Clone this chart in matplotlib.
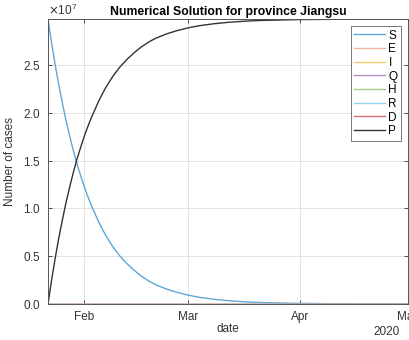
import numpy as np
import matplotlib
matplotlib.use("Agg")
import matplotlib.pyplot as plt
import matplotlib.dates as mdates
from matplotlib.ticker import ScalarFormatter

plt.rcParams['font.family'] = ['Liberation Sans', 'DejaVu Sans']

start_date = np.datetime64('2020-01-22')
days = [0, 1, 2, 3, 4, 5, 6, 7, 8, 9, 10, 11, 12, 13, 14, 15, 16, 17, 18, 19, 20,
        22, 24, 26, 28, 30, 33, 36, 39, 42, 46, 50, 55, 60, 70, 80, 90, 100]
# values in units of 1e7
S = [2.98, 2.73, 2.50, 2.29, 2.10, 1.92, 1.76, 1.61, 1.47, 1.35, 1.235, 1.13, 1.035,
     0.95, 0.865, 0.79, 0.72, 0.66, 0.60, 0.55, 0.50, 0.42, 0.35, 0.29, 0.24, 0.20,
     0.155, 0.12, 0.092, 0.07, 0.05, 0.035, 0.022, 0.014, 0.006, 0.003, 0.001, 0.0005]
P = [0.0, 0.25, 0.48, 0.69, 0.88, 1.06, 1.22, 1.37, 1.51, 1.63, 1.745, 1.85, 1.945,
     2.03, 2.115, 2.19, 2.26, 2.32, 2.38, 2.43, 2.48, 2.56, 2.63, 2.69, 2.74, 2.78,
     2.825, 2.86, 2.888, 2.91, 2.93, 2.945, 2.958, 2.966, 2.974, 2.977, 2.979, 2.98]
E = [0.0] * len(days)
I = [0.0] * len(days)
Q = [0.0] * len(days)
H = [0.0] * len(days)
R = [0.0] * len(days)
D = [0.0] * len(days)

names = ['S', 'E', 'I', 'Q', 'H', 'R', 'D', 'P']
series = [S, E, I, Q, H, R, D, P]
colors = ['#5EA7DA', '#F0B59C', '#F0CD70', '#B98AC9', '#A8CE86', '#90D2EE', '#D8707F', '#333333']

dates = start_date + np.array(days).astype('timedelta64[D]')
dates = dates.astype('datetime64[s]').astype(object)

fs = 8.5
fig = plt.figure(figsize=(4.09, 3.40), dpi=100)
ax = fig.add_axes([48/409, 1-304/340, 360/409, 285/340])

for name, vals, c in zip(names, series, colors):
    ax.plot(dates, np.array(vals) * 1e7, color=c, lw=1.0, label=name)

ax.set_xlim(np.datetime64('2020-01-22').astype(object), np.datetime64('2020-05-01').astype(object))
ax.set_ylim(0, 2.98e7)
ax.set_yticks([0, 0.5e7, 1e7, 1.5e7, 2e7, 2.5e7])
fmt = ScalarFormatter(useMathText=True)
fmt.set_powerlimits((0, 0))
ax.yaxis.set_major_formatter(fmt)
ax.yaxis.get_offset_text().set_fontsize(fs)
ax.yaxis.get_offset_text().set_color('#333333')

ax.xaxis.set_major_locator(mdates.MonthLocator())
ax.xaxis.set_major_formatter(mdates.DateFormatter('%b'))

ax.grid(True, color='#E3E3E3', lw=0.7)
ax.set_axisbelow(True)
ax.tick_params(direction='in', labelsize=fs, colors='#333333', top=True, right=True,
               length=3, width=0.6, pad=5)
for sp in ax.spines.values():
    sp.set_color('#555555')
    sp.set_linewidth(0.7)

ax.set_xlabel('date', fontsize=fs, color='#333333', labelpad=0)
ax.set_ylabel('Number of cases', fontsize=fs, color='#333333', labelpad=5)
ax.set_title('Numerical Solution for province Jiangsu', fontsize=8.8, fontweight='bold', pad=3)
ax.text(0.978, -0.078, '2020', transform=ax.transAxes, ha='right', va='top', fontsize=fs, color='#333333')

leg = ax.legend(loc='upper right', fontsize=fs, frameon=True, fancybox=False,
                edgecolor='#777777', framealpha=1, labelspacing=0.14, handlelength=2.6,
                handletextpad=0.3, borderpad=0.3, borderaxespad=0.6)
leg.get_frame().set_linewidth(0.7)

fig.savefig('out.png', dpi=100)
